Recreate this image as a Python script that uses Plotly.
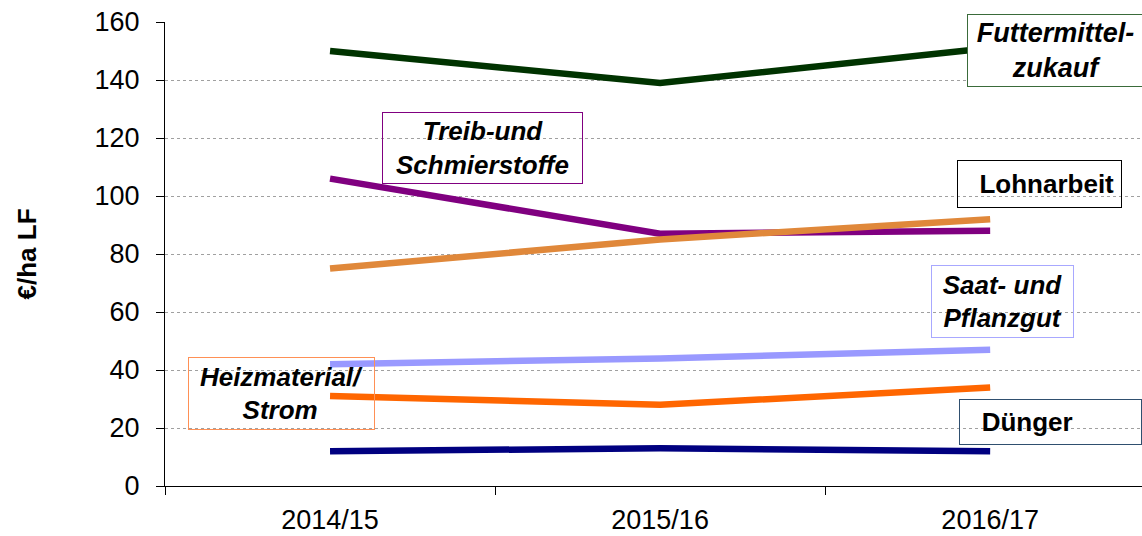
import plotly.graph_objects as go

years = ["2014/15", "2015/16", "2016/17"]

futtermittel = [150, 139, 151]
treibstoffe = [106, 87, 88]
lohnarbeit = [75, 85, 92]
saatgut = [42, 44, 47]
heizmaterial = [31, 28, 34]
duenger = [12, 13, 12]

series = [
    ("Futtermittelzukauf", futtermittel, "#003300"),
    ("Treib-und Schmierstoffe", treibstoffe, "#800080"),
    ("Lohnarbeit", lohnarbeit, "#E0883A"),
    ("Saat- und Pflanzgut", saatgut, "#9999FF"),
    ("Heizmaterial/Strom", heizmaterial, "#FF6600"),
    ("Dünger", duenger, "#000080"),
]

FONT = "Liberation Sans, Arial, sans-serif"

# plot area in pixels (for placing the label boxes)
L, R, T, B = 165, 1142, 22, 486


def px(x):
    return (x - L) / (R - L)


def py(y):
    return (B - y) / (B - T)


fig = go.Figure()
for name, vals, col in series:
    fig.add_trace(go.Scatter(x=years, y=vals, name=name, mode="lines",
                             line=dict(color=col, width=6.5)))


def box(text, x0, x1, y0, y1, border, align="center", bg="rgba(0,0,0,0)", size=26):
    fig.add_annotation(
        text=text, xref="paper", yref="paper", x=px(x0), y=py(y0),
        xanchor="left", yanchor="top", width=x1 - x0, height=y1 - y0,
        align=align, valign="middle", showarrow=False,
        bordercolor=border, borderwidth=1, borderpad=0, bgcolor=bg,
        font=dict(family=FONT, size=size, color="black"))


box("<b><i>Futtermittel-<br>zukauf</i></b>", 967, 1142, 14, 85, "#3A6B3A", bg="white", size=27)
box("<b>Lohnarbeit\u00a0</b>", 957, 1120, 160, 206, "black", align="right")
box("<b><i>Treib-und<br>Schmierstoffe</i></b>", 382, 581, 112, 182, "#800080")
box("<b><i>Heizmaterial/<br>Strom</i></b>", 188, 373, 357, 428, "#FF9055")
box("<b><i>Saat- und<br>Pflanzgut</i></b>", 931, 1072, 265, 336, "#A8A8FF")
box("<b>\u00a0\u00a0\u00a0Dünger</b>", 959, 1140, 399, 443, "#2F4F6F", align="left")

fig.update_layout(
    width=1142, height=536,
    margin=dict(l=L, r=1142 - R, t=T, b=536 - B),
    paper_bgcolor="white", plot_bgcolor="white",
    showlegend=False,
    font=dict(family=FONT, color="black"),
)
fig.update_xaxes(
    type="category", range=[-0.5, 2.46], tickson="boundaries",
    ticks="outside", ticklen=8, tickcolor="black",
    showline=True, linecolor="black", linewidth=1, automargin=False,
    showgrid=False, tickfont=dict(size=27), ticklabelstandoff=10,
)
fig.update_yaxes(
    range=[0, 160], dtick=20, ticks="outside", ticklen=8, tickcolor="black",
    showline=True, linecolor="black", linewidth=1, automargin=False,
    showgrid=True, gridcolor="#A0A0A0", gridwidth=1, griddash="dot",
    zeroline=False, tickfont=dict(size=27), ticklabelstandoff=11,
    title=dict(text="<b>€/ha LF</b>", font=dict(size=26), standoff=50),
)

# drop the default body margin so the chart sits at the page corner
fig.write_html("out.html", config={"displayModeBar": False},
               post_script="document.body.style.margin='0';")
